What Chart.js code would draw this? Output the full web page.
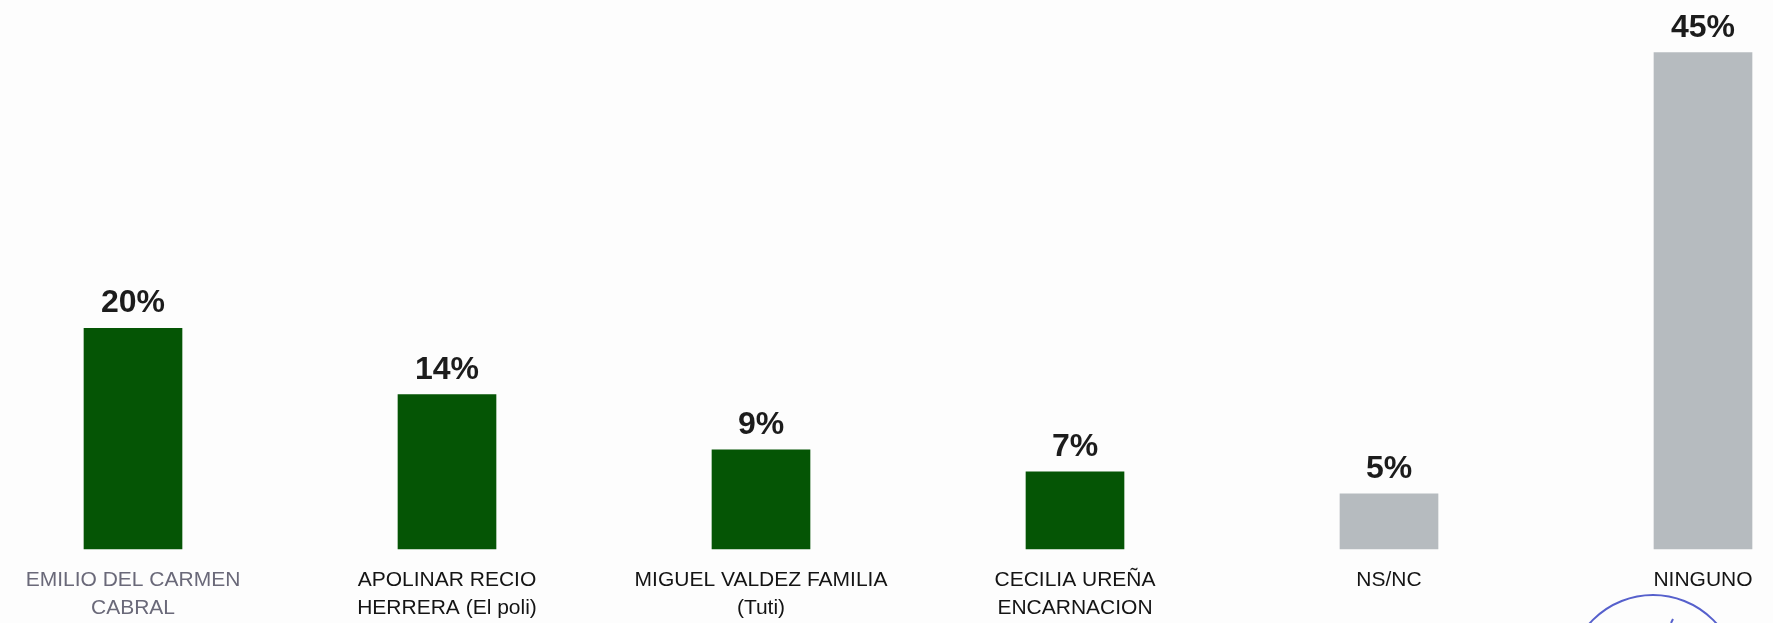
<!DOCTYPE html>
<html>
<head>
<meta charset="utf-8">
<title>Intención de voto</title>
<script src="https://cdn.jsdelivr.net/npm/chart.js@4.4.1/dist/chart.umd.min.js"></script>
<style>
  html, body { margin: 0; padding: 0; background: #fdfdfd; }
  #wrap { position: relative; width: 1773px; height: 623px; }
</style>
</head>
<body>
<div id="wrap"><canvas id="myChart"></canvas></div>
<script>
// --- Data ---
const categories = [
  ["EMILIO DEL CARMEN", "CABRAL"],
  ["APOLINAR RECIO", "HERRERA (El poli)"],
  ["MIGUEL VALDEZ FAMILIA", "(Tuti)"],
  ["CECILIA UREÑA", "ENCARNACION"],
  "NS/NC",
  "NINGUNO"
];
const values = [20, 14, 9, 7, 5, 45];
const valueLabels = ["20%", "14%", "9%", "7%", "5%", "45%"];
const barColors = ["#055505", "#055505", "#055505", "#055505", "#b6bbbf", "#b6bbbf"];

// --- Value labels above bars ---
const valueLabelPlugin = {
  id: "valueLabels",
  afterDatasetsDraw(chart) {
    const { ctx } = chart;
    const meta = chart.getDatasetMeta(0);
    ctx.save();
    ctx.font = "bold 32px 'Liberation Sans', Arial, sans-serif";
    ctx.fillStyle = "#1c1c1c";
    ctx.textAlign = "center";
    ctx.textBaseline = "alphabetic";
    meta.data.forEach((bar, i) => {
      ctx.fillText(valueLabels[i], bar.x, bar.y - 16);
    });
    ctx.restore();
  }
};

// stamp edge in the bottom right corner
const stampPlugin = {
  id: "stamp",
  afterDraw(chart) {
    const { ctx } = chart;
    ctx.save();
    ctx.strokeStyle = "#5660cc";
    ctx.lineWidth = 2;
    ctx.beginPath();
    ctx.arc(1653, 680, 85, 0, Math.PI * 2);
    ctx.stroke();
    ctx.beginPath();
    ctx.moveTo(1671, 623);
    ctx.lineTo(1673, 619);
    ctx.stroke();
    ctx.restore();
  }
};

// --- Chart ---
const ctx = document.getElementById("myChart");
let chart = new Chart(ctx, {
  type: "bar",
  data: {
    labels: categories,
    datasets: [{
      data: values,
      backgroundColor: barColors,
      barThickness: 98,
      clip: false
    }]
  },
  options: {
    responsive: true,
    maintainAspectRatio: false,
    animation: false,
    layout: { padding: { left: 133, right: 70, top: 0, bottom: 0 } },
    plugins: {
      legend: { display: false },
      tooltip: { enabled: false }
    },
    scales: {
      x: {
        offset: false,
        grid: { display: false },
        border: { display: false },
        ticks: {
          padding: 10,
          maxRotation: 0,
          autoSkip: false,
          font: { family: "'Liberation Sans', Arial, sans-serif", size: 21, lineHeight: 1.3 },
          color: c => c.index === 0 ? "#6a6979" : "#141414"
        },
        afterFit(scale) { scale.height = 74; }
      },
      y: {
        display: false,
        min: 0,
        max: 49.77
      }
    }
  },
  plugins: [valueLabelPlugin, stampPlugin]
});
</script>
</body>
</html>
